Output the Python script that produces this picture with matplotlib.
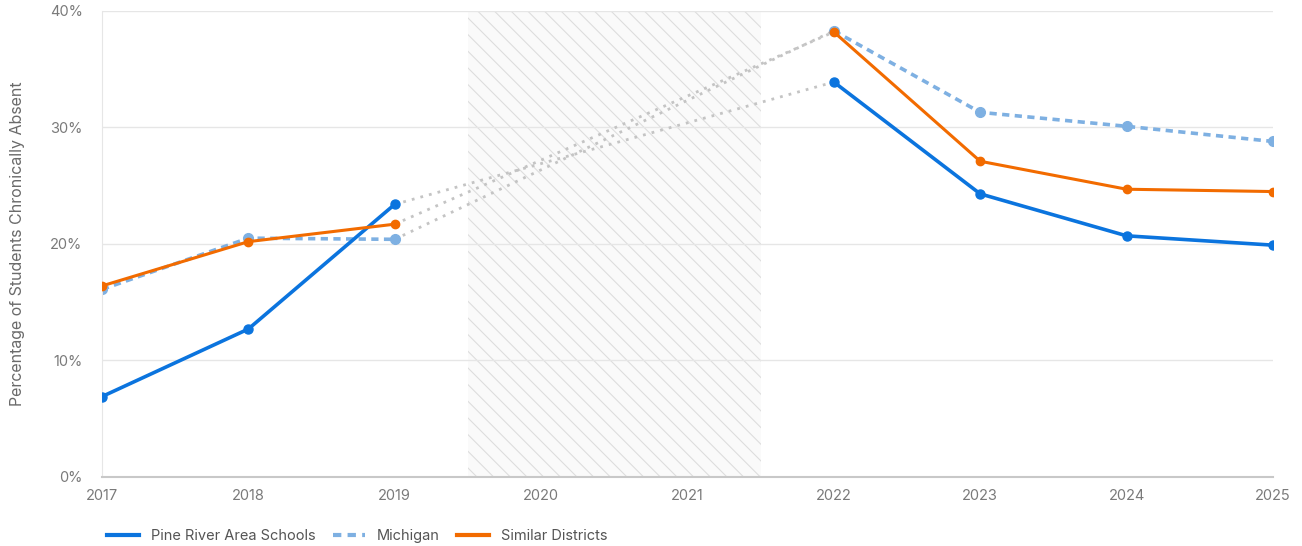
import matplotlib
matplotlib.use("Agg")
import matplotlib.pyplot as plt
from matplotlib.patches import Rectangle
from matplotlib.lines import Line2D
from matplotlib.ticker import FuncFormatter

plt.rcParams['font.family'] = ['Inter', 'DejaVu Sans']
plt.rcParams['hatch.color'] = '#dddddd'
plt.rcParams['hatch.linewidth'] = 0.8

# ---------- data ----------
years_before = [2017, 2018, 2019]
years_after = [2022, 2023, 2024, 2025]

pine_before = [6.9, 12.7, 23.4]
pine_after = [33.9, 24.3, 20.7, 19.9]

mich_before = [16.1, 20.5, 20.4]
mich_after = [38.3, 31.3, 30.1, 28.8]

similar_before = [16.4, 20.2, 21.7]
similar_after = [38.2, 27.1, 24.7, 24.5]

tick_years = [2017, 2018, 2019, 2020, 2021, 2022, 2023, 2024, 2025]
gap_start, gap_end = 2019.5, 2021.5

c_pine = '#0b74de'
c_mich = '#7eb0e2'
c_sim = '#f26b00'
c_gap = '#c4c4c4'
c_text = '#7a7a7a'

fig = plt.figure(figsize=(13.02, 5.46), dpi=100)
ax = fig.add_axes([0.0783, 0.1264, 0.8994, 0.8535])

# covid gap shading
ax.add_patch(Rectangle((gap_start, 0), gap_end - gap_start, 40,
                       facecolor='#fafafa', edgecolor='#dddddd', hatch='\\\\',
                       linewidth=0, zorder=0.5))

# dotted connectors across the gap
for b, a in [(pine_before, pine_after), (mich_before, mich_after), (similar_before, similar_after)]:
    ax.plot([years_before[-1], years_after[0]], [b[-1], a[0]], color=c_gap,
            linestyle=(0, (1, 2.2)), linewidth=2, zorder=1)

# series
ax.plot(years_before, mich_before, color=c_mich, linestyle=(0, (2, 1.5)), linewidth=2.6,
        marker='o', markersize=7, zorder=2)
ax.plot(years_after, mich_after, color=c_mich, linestyle=(0, (2, 1.5)), linewidth=2.6,
        marker='o', markersize=7, zorder=2)

ax.plot(years_before, pine_before, color=c_pine, linewidth=2.6, marker='o',
        markersize=6.5, zorder=3)
ax.plot(years_after, pine_after, color=c_pine, linewidth=2.6, marker='o',
        markersize=6.5, zorder=3)

ax.plot(years_before, similar_before, color=c_sim, linewidth=2.2, marker='o',
        markersize=6, zorder=4)
ax.plot(years_after, similar_after, color=c_sim, linewidth=2.2, marker='o',
        markersize=6, zorder=4)

ax.set_xlim(2017, 2025)
ax.set_ylim(0, 40)
ax.set_xticks(tick_years)
ax.set_yticks([0, 10, 20, 30, 40])
ax.yaxis.set_major_formatter(FuncFormatter(lambda v, p: f"{int(v)}%"))
ax.tick_params(axis='both', length=0, labelsize=10.5, colors=c_text)
ax.tick_params(axis='x', pad=9)
ax.tick_params(axis='y', pad=14)
ax.grid(axis='y', color='#e6e6e6', linewidth=1)
ax.set_axisbelow(True)

for s in ['top', 'right']:
    ax.spines[s].set_visible(False)
ax.spines['left'].set_color('#e6e6e6')
ax.spines['bottom'].set_color('#c8c8c8')
ax.spines['bottom'].set_linewidth(1.5)

ax.set_ylabel('Percentage of Students Chronically Absent', fontsize=11.5, color='#6a6a6a', labelpad=18)

handles = [Line2D([], [], color=c_pine, linewidth=3),
           Line2D([], [], color=c_mich, linewidth=3, linestyle=(0, (2, 1.5))),
           Line2D([], [], color=c_sim, linewidth=3)]
labels = ['Pine River Area Schools', 'Michigan', 'Similar Districts']
fig.legend(handles, labels, loc='lower left', bbox_to_anchor=(0.072, -0.018), ncol=3,
           frameon=False, fontsize=10.5, handlelength=2.2, handletextpad=0.8,
           columnspacing=1.2, labelcolor='#555555')

fig.savefig('out.png', dpi=100)
